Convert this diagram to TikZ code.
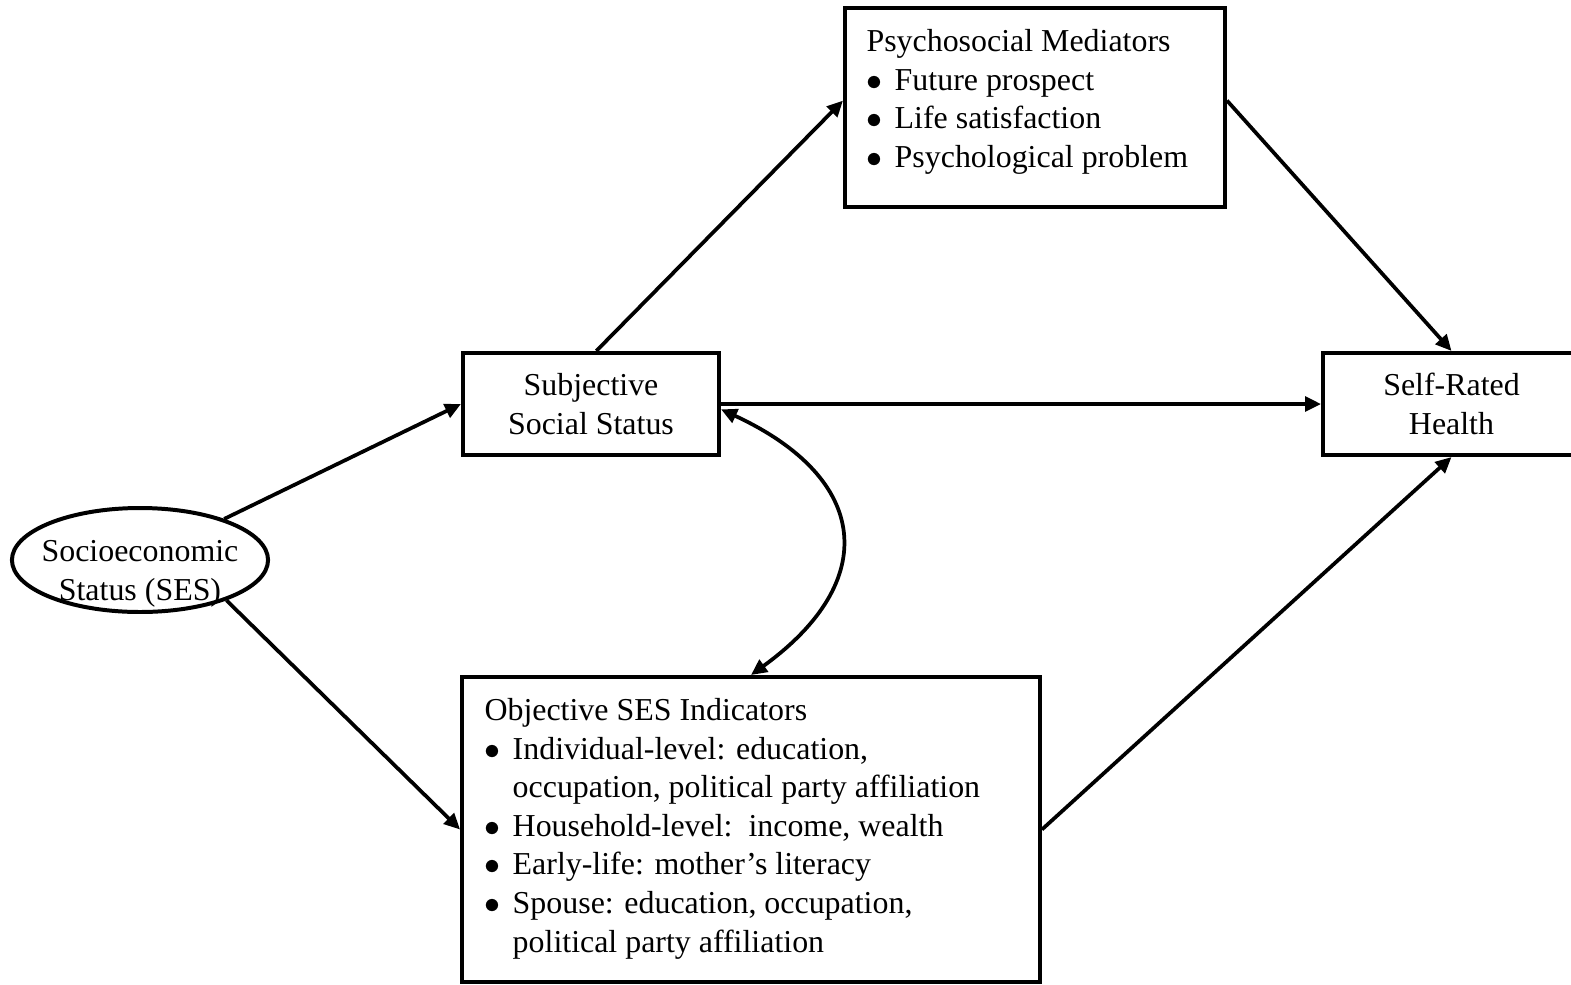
\documentclass[tikz,border=0pt]{standalone}
\usepackage{fontspec}
\setmainfont{Liberation Serif}
\usetikzlibrary{arrows.meta,shapes.geometric}

\tikzset{
  box/.style={draw,line width=1.5pt,inner sep=0pt},
  link/.style={line width=1.4pt,->},
  txt/.style={inner sep=0pt,font=\fontsize{12}{14.5}\selectfont},
}
\newcommand{\itm}{\makebox[10.6pt][l]{$\bullet$}}
\newcommand{\hang}{\hspace*{10.6pt}}

\begin{document}
\begin{tikzpicture}[x=0.376pt,y=-0.376pt,>={Triangle[length=6pt,width=5.5pt]}]
    \useasboundingbox (0,0) rectangle (1571,984);

    % the boxes
    \node[box,ellipse,minimum width=96.3pt,minimum height=39.1pt] (ses) at (140,560) {};
    \node[txt,align=center] (sestxt) at (140,574) {Socioeconomic\\Status (SES)};

    \node[box,minimum width=96.3pt,minimum height=38.4pt,txt,align=center] (sss) at (591,404) {Subjective\\Social Status};
    \node[box,minimum width=96.6pt,minimum height=38.4pt,txt,align=center] (srh) at (1451.5,404) {Self-Rated\\Health};

    \node[box,minimum width=142.9pt,minimum height=74.8pt] (psych) at (1035,107.5) {};
    \node[txt,align=left,anchor=north west] (psychtxt) at (866,29) {Psychosocial Mediators\\
      \itm Future prospect\\
      \itm Life satisfaction\\
      \itm Psychological problem};

    \node[box,minimum width=217.3pt,minimum height=114.7pt] (obj) at (751,829.5) {};
    \node[txt,align=left,anchor=north west] (objtxt) at (484,698) {Objective SES Indicators\\
      \itm Individual-level: education,\\
      \hang occupation, political party affiliation\\
      \itm Household-level:\ \ income, wealth\\
      \itm Early-life: mother’s literacy\\
      \itm Spouse: education, occupation,\\
      \hang political party affiliation};

    % the paths
    \draw[link] (ses.26) -- (sss.west);
    \draw[link] (ses.-25) -- (obj.west);
    \draw[link] ([xshift=2pt]sss.north) -- ([yshift=2.6pt]psych.west);
    \draw[link] ([yshift=2.6pt]psych.east) -- (srh.north);
    \draw[link] (sss.east) -- (srh.west);
    \draw[link] (obj.east) -- (srh.south);
    \draw[link,<->] ([yshift=-2pt]sss.east) .. controls +(149,69) and +(130,-94) .. (obj.north);
\end{tikzpicture}
\end{document}
